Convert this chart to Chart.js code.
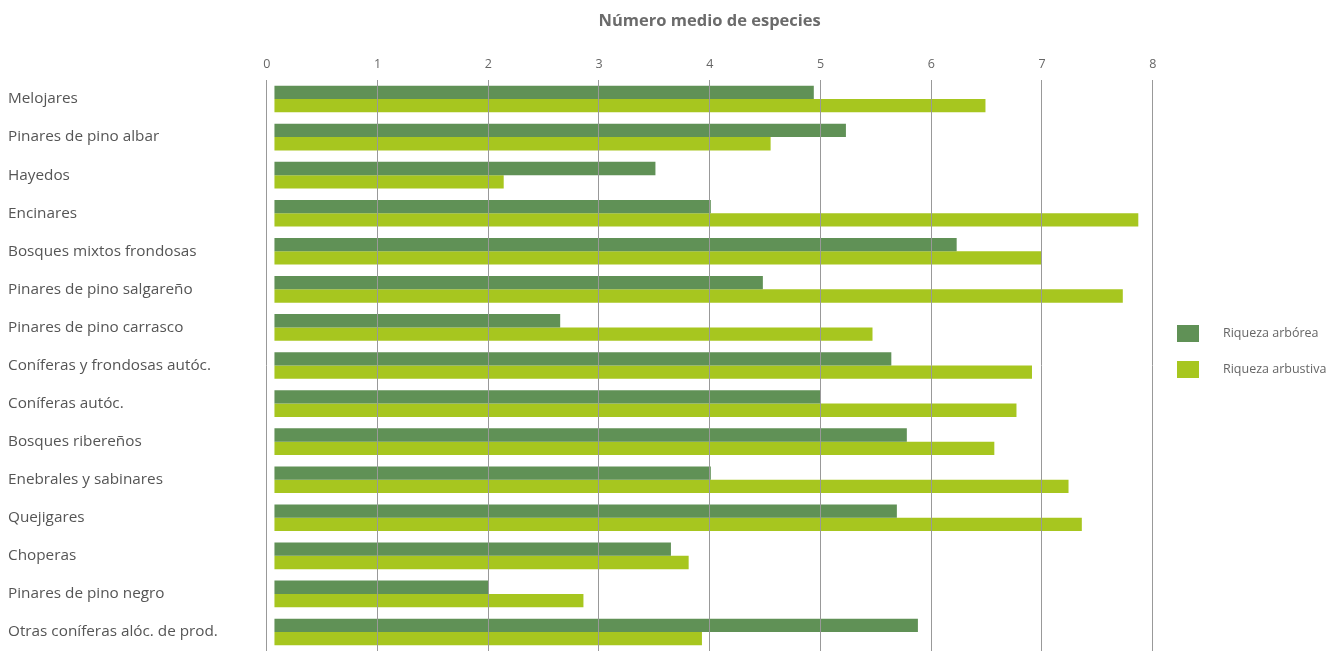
<!DOCTYPE html>
<html>
<head>
<meta charset="utf-8">
<script src="https://cdn.jsdelivr.net/npm/chart.js@4.4.1/dist/chart.umd.min.js"></script>
<style>
  html, body { margin: 0; padding: 0; background: #ffffff; }
  #wrap { width: 1339px; height: 651px; position: relative; }
</style>
</head>
<body>
<div id="wrap"><canvas id="chart" width="1339" height="651"></canvas></div>
<script>
const categories = [
  "Melojares",
  "Pinares de pino albar",
  "Hayedos",
  "Encinares",
  "Bosques mixtos frondosas",
  "Pinares de pino salgareño",
  "Pinares de pino carrasco",
  "Coníferas y frondosas autóc.",
  "Coníferas autóc.",
  "Bosques ribereños",
  "Enebrales y sabinares",
  "Quejigares",
  "Choperas",
  "Pinares de pino negro",
  "Otras coníferas alóc. de prod."
];
const riquezaArborea   = [4.94, 5.23, 3.51, 4.01, 6.23, 4.48, 2.65, 5.64, 5.00, 5.78, 4.01, 5.69, 3.65, 2.00, 5.88];
const riquezaArbustiva = [6.49, 4.55, 2.14, 7.87, 7.00, 7.73, 5.47, 6.91, 6.77, 6.57, 7.24, 7.36, 3.81, 2.86, 3.93];
const seriesNames = ["Riqueza arbórea", "Riqueza arbustiva"];
const xTickValues = [0, 1, 2, 3, 4, 5, 6, 7, 8];
const chartTitle = "Número medio de especies";

const FONT = "'Open Sans', 'Noto Sans', sans-serif";

// Legend drawn on the canvas from the chart's own datasets (labels + colours)
const sideLegend = {
  id: 'sideLegend',
  afterDraw(chart) {
    const ctx = chart.ctx;
    const boxX = 1177, boxW = 22, boxH = 17, firstTop = 325, step = 36, textX = 1223;
    ctx.save();
    ctx.font = "12.5px " + FONT;
    ctx.textBaseline = 'middle';
    ctx.textAlign = 'left';
    chart.data.datasets.forEach((ds, i) => {
      const top = firstTop + i * step;
      ctx.fillStyle = ds.backgroundColor;
      ctx.fillRect(boxX, top, boxW, boxH);
      ctx.fillStyle = '#666666';
      ctx.fillText(ds.label, textX, top + boxH / 2);
    });
    ctx.restore();
  }
};

new Chart(document.getElementById('chart'), {
  type: 'bar',
  data: {
    labels: categories,
    datasets: [
      {
        label: seriesNames[0],
        data: riquezaArborea,
        backgroundColor: '#609156',
        borderWidth: 0,
        base: 0.07,
        categoryPercentage: 0.7,
        barPercentage: 1.0
      },
      {
        label: seriesNames[1],
        data: riquezaArbustiva,
        backgroundColor: '#a7c61f',
        borderWidth: 0,
        base: 0.07,
        categoryPercentage: 0.7,
        barPercentage: 1.0
      }
    ]
  },
  options: {
    indexAxis: 'y',
    responsive: false,
    devicePixelRatio: 1,
    animation: false,
    layout: { padding: { left: 8, right: 186.3, top: 0, bottom: 0 } },
    plugins: {
      title: {
        display: true,
        text: chartTitle,
        fullSize: false,
        color: '#6b6b6b',
        font: { family: FONT, size: 16.5, weight: 'bold' },
        padding: { top: 11, bottom: 19.2 }
      },
      legend: { display: false },
      tooltip: { enabled: false }
    },
    scales: {
      x: {
        position: 'top',
        min: 0,
        max: 8,
        afterBuildTicks: (scale) => { scale.ticks = xTickValues.map(v => ({ value: v })); },
        afterFit: (scale) => { scale.height = 30; },
        ticks: {
          color: '#666666',
          font: { family: FONT, size: 12.5 },
          padding: 8
        },
        grid: {
          color: '#999999',
          lineWidth: 1,
          drawTicks: false,
          z: 1
        },
        border: { display: false }
      },
      y: {
        afterFit: (scale) => {
          scale.width = 258.7;
          scale.paddingTop = 0;
          scale.paddingBottom = 0;
        },
        ticks: {
          crossAlign: 'far',
          color: '#555555',
          font: { family: FONT, size: 15.3 },
          padding: 0
        },
        grid: { display: false, drawTicks: false },
        border: { display: false }
      }
    }
  },
  plugins: [sideLegend]
});
</script>
</body>
</html>
